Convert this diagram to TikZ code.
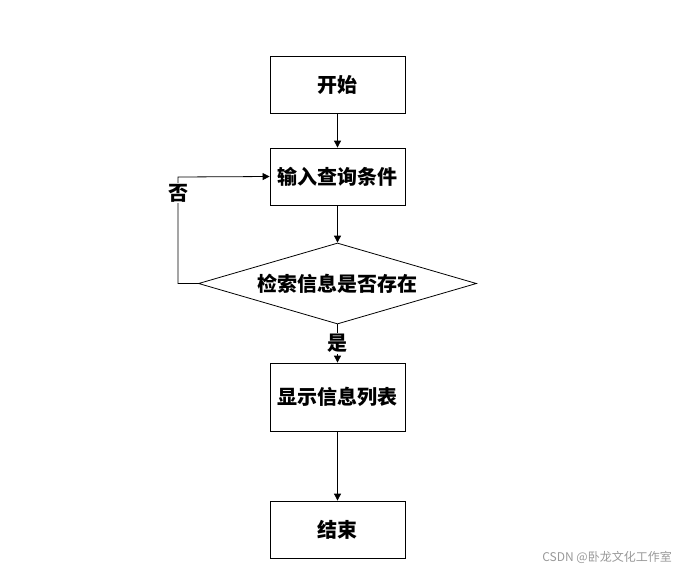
\documentclass[tikz,border=0pt]{standalone}
\usepackage{fontspec}
\newfontfamily\cjk{Noto Sans CJK SC}
\usetikzlibrary{shapes.geometric,arrows.meta}
\begin{document}
\begin{tikzpicture}[x=1pt,y=-1pt,
  txt/.style={font=\cjk\bfseries\fontsize{20}{20}\selectfont},
  box/.style={txt,draw,line width=0.8pt,minimum width=135pt,minimum height=57pt,inner sep=0pt},
  dec/.style={txt,draw,line width=0.8pt,diamond,aspect=3.43,minimum width=278pt,minimum height=81pt,inner sep=0pt},
  lbl/.style={txt,fill=white,inner sep=1pt},
  arr/.style={line width=0.8pt,-{Triangle[length=7pt,width=7pt]}}]
\useasboundingbox (0,0) rectangle (677,571);
\node[box] (start) at (337.5,84.5) {开始};
\node[box] (input) at (337.5,176.5) {输入查询条件};
\node[dec] (check) at (337.5,283.5) {检索信息是否存在};
\node[box,minimum height=68pt] (show) at (337.5,397) {显示信息列表};
\node[box] (end) at (337.5,529.5) {结束};
\coordinate (lb) at (178,283.5);
\coordinate (lt) at (178,177);
\draw[arr] (start) -- (input);
\draw[arr] (input) -- (check);
\draw[arr] (check) -- node[lbl,pos=0.5] {是} (show);
\draw[arr] (show) -- (end);
\draw[arr] (check.west) -- (lb) -- node[lbl,pos=0.85] {否} (lt) -- (input.west);
\node[font=\cjk\fontsize{12}{12}\selectfont,text=black!40,anchor=east,inner sep=0pt] (wm) at (672,557) {CSDN @卧龙文化工作室};
\end{tikzpicture}
\end{document}
